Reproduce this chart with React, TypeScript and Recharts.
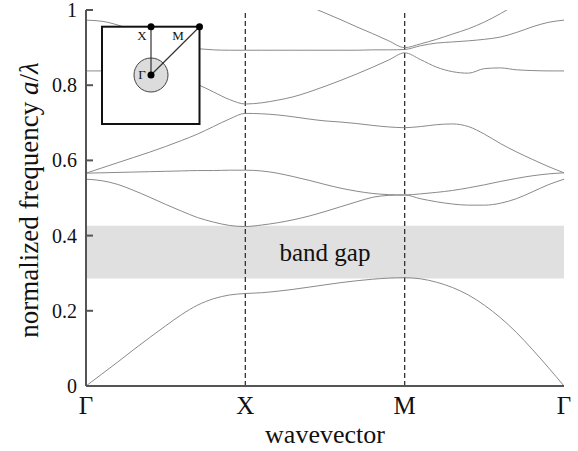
import React from 'react';
import {
  LineChart,
  Line,
  XAxis,
  YAxis,
  ReferenceArea,
  ReferenceLine,
  Label,
} from 'recharts';

const SERIF = "'Liberation Serif', 'DejaVu Serif', serif";

// wavevector positions along Γ -> X -> M -> Γ (0..3)
const kPoints = [
  0, 0.1, 0.2, 0.3, 0.4, 0.5, 0.6, 0.7, 0.8, 0.9,
  1, 1.1, 1.2, 1.3, 1.4, 1.5, 1.6, 1.7, 1.8, 1.9,
  2, 2.1, 2.2, 2.3, 2.4, 2.5, 2.6, 2.7, 2.8, 2.9, 3,
];

const xTickValues = [0, 1, 2, 3];
const xTickLabels = ['Γ', 'X', 'M', 'Γ'];
const yTickValues = [0, 0.2, 0.4, 0.6, 0.8, 1];

// band gap edges
const gapLow = 0.286;
const gapHigh = 0.426;

// bands
const band1 = [0, 0.032, 0.064, 0.097, 0.129, 0.16, 0.19, 0.215, 0.232, 0.242, 0.246, 0.248, 0.252, 0.257, 0.263, 0.269, 0.275, 0.28, 0.284, 0.287, 0.288, 0.285, 0.276, 0.262, 0.242, 0.215, 0.182, 0.143, 0.098, 0.05, 0];
const band2 = [0.55, 0.546, 0.536, 0.52, 0.502, 0.483, 0.465, 0.448, 0.436, 0.427, 0.424, 0.428, 0.434, 0.442, 0.452, 0.464, 0.477, 0.49, 0.502, 0.507, 0.508, 0.498, 0.49, 0.484, 0.481, 0.481, 0.486, 0.498, 0.516, 0.535, 0.55];
const band3 = [0.566, 0.567, 0.568, 0.569, 0.57, 0.571, 0.572, 0.573, 0.573, 0.574, 0.574, 0.572, 0.566, 0.557, 0.547, 0.536, 0.526, 0.518, 0.512, 0.509, 0.508, 0.511, 0.515, 0.52, 0.527, 0.535, 0.544, 0.552, 0.559, 0.564, 0.567];
const band4 = [0.566, 0.58, 0.594, 0.608, 0.622, 0.637, 0.653, 0.67, 0.69, 0.71, 0.725, 0.724, 0.721, 0.716, 0.71, 0.705, 0.702, 0.698, 0.693, 0.689, 0.687, 0.69, 0.695, 0.697, 0.69, 0.67, 0.645, 0.623, 0.603, 0.584, 0.567];
const band5 = [0.838, 0.838, 0.836, 0.833, 0.829, 0.824, 0.815, 0.802, 0.782, 0.762, 0.75, 0.753, 0.76, 0.769, 0.782, 0.797, 0.813, 0.83, 0.848, 0.867, 0.886, 0.868, 0.848, 0.836, 0.832, 0.844, 0.846, 0.841, 0.839, 0.838, 0.838];
const band6 = [0.973, 0.97, 0.96, 0.945, 0.927, 0.912, 0.902, 0.897, 0.894, 0.893, 0.893, 0.893, 0.893, 0.893, 0.893, 0.893, 0.893, 0.893, 0.894, 0.894, 0.895, 0.905, 0.912, 0.915, 0.918, 0.922, 0.928, 0.94, 0.955, 0.967, 0.973];
const band7 = [null, null, null, null, null, null, null, null, null, null, null, null, null, null, 1.01, 0.992, 0.974, 0.955, 0.937, 0.918, 0.9, 0.91, 0.922, 0.936, 0.95, 0.968, 0.99, 1.015, null, null, null];

const bands = [band1, band2, band3, band4, band5, band6, band7];

const rows = kPoints.map((k, i) => {
  const row: any = { k };
  bands.forEach((b, j) => {
    row['b' + (j + 1)] = b[i];
  });
  return row;
});

const XTick = (props: any) => {
  const { x, y, payload } = props;
  const idx = xTickValues.indexOf(payload.value);
  return (
    <text x={x} y={y + 28} textAnchor="middle" fontFamily={SERIF} fontSize={25} fill="#111">
      {xTickLabels[idx]}
    </text>
  );
};

const fmtY = (v: number) => (v === 0 || v === 1 ? String(v) : v.toFixed(1));

const YTickLeft = (props: any) => {
  const { x, y, payload } = props;
  return (
    <g>
      <text x={x - 9} y={y} dy="0.35em" textAnchor="end" fontFamily={SERIF} fontSize={20} fill="#111">
        {fmtY(payload.value)}
      </text>
      <line x1={x} x2={x + 7} y1={y} y2={y} stroke="#555" strokeWidth={2} />
    </g>
  );
};

const YTickRight = (props: any) => {
  const { x, y } = props;
  return <line x1={x - 7} x2={x} y1={y} y2={y} stroke="#555" strokeWidth={2} />;
};

const YLabel = (props: any) => {
  const vb = props.viewBox || { x: 0, y: 10, width: 86, height: 376 };
  const cx = vb.x + 38;
  const cy = vb.y + vb.height / 2 + 2;
  return (
    <text
      x={cx}
      y={cy}
      transform={`rotate(-90, ${cx}, ${cy})`}
      textAnchor="middle"
      fontFamily={SERIF}
      fontSize={27}
      fill="#111"
    >
      normalized frequency <tspan fontStyle="italic">a</tspan>/<tspan fontStyle="italic">λ</tspan>
    </text>
  );
};

// Brillouin zone inset (decoration, page pixels)
const Inset = () => (
  <svg
    width={578}
    height={451}
    style={{ position: 'absolute', left: 0, top: 0, pointerEvents: 'none' }}
  >
    <rect x={102} y={26.7} width={97.5} height={97.3} fill="#fff" stroke="#111" strokeWidth={2} />
    <circle cx={151} cy={75} r={17} fill="#dcdcdc" stroke="#444" strokeWidth={1} />
    <line x1={151} y1={26.7} x2={151} y2={75} stroke="#333" strokeWidth={1.2} />
    <line x1={151} y1={75} x2={199.5} y2={26.7} stroke="#333" strokeWidth={1.2} />
    <circle cx={151} cy={26.7} r={3.5} fill="#000" />
    <circle cx={199.5} cy={26.7} r={3.5} fill="#000" />
    <circle cx={151} cy={75} r={3.5} fill="#000" />
    <text x={142} y={40} textAnchor="middle" fontFamily={SERIF} fontSize={13} fill="#111">X</text>
    <text x={178} y={40} textAnchor="middle" fontFamily={SERIF} fontSize={13} fill="#111">M</text>
    <text x={142} y={79} textAnchor="middle" fontFamily={SERIF} fontSize={13} fill="#111">Γ</text>
  </svg>
);

const frame = { stroke: '#555', strokeWidth: 2 };

export default function App() {
  return (
    <div style={{ position: 'absolute', left: 0, top: 0, width: 578, height: 451, background: '#fff' }}>
      <LineChart width={578} height={451} data={rows} margin={{ top: 10, right: 14, bottom: 0, left: 0 }}>
        <ReferenceArea
          y1={gapLow}
          y2={gapHigh}
          fill="#e0e0e0"
          fillOpacity={1}
          stroke="none"
          label={{ value: 'band gap', position: 'center', fontFamily: SERIF, fontSize: 25, fill: '#111' }}
        />
        <ReferenceLine x={1} stroke="#333" strokeWidth={1.3} strokeDasharray="5 3" />
        <ReferenceLine x={2} stroke="#333" strokeWidth={1.3} strokeDasharray="5 3" />
        <XAxis
          dataKey="k"
          type="number"
          domain={[0, 3]}
          ticks={xTickValues}
          height={65}
          tickSize={0}
          tickMargin={0}
          tick={(p: any) => <XTick {...p} />}
          axisLine={frame}
          label={{ value: 'wavevector', position: 'insideBottom', offset: 8, fontFamily: SERIF, fontSize: 26, fill: '#111' }}
        />
        <XAxis
          xAxisId="top"
          orientation="top"
          type="number"
          domain={[0, 3]}
          height={0}
          tick={false}
          tickLine={false}
          axisLine={frame}
        />
        <YAxis
          type="number"
          domain={[0, 1]}
          ticks={yTickValues}
          width={86}
          allowDataOverflow
          tickSize={0}
          tickMargin={0}
          tick={(p: any) => <YTickLeft {...p} />}
          axisLine={frame}
        >
          <Label content={(p: any) => <YLabel {...p} />} />
        </YAxis>
        <YAxis
          yAxisId="right"
          orientation="right"
          type="number"
          domain={[0, 1]}
          ticks={yTickValues}
          width={0}
          tickSize={0}
          tickMargin={0}
          tick={(p: any) => <YTickRight {...p} />}
          axisLine={frame}
        />
        {bands.map((_, j) => (
          <Line
            key={j}
            dataKey={'b' + (j + 1)}
            type="monotone"
            stroke="#8a8a8a"
            strokeWidth={1}
            dot={false}
            activeDot={false}
            isAnimationActive={false}
          />
        ))}
      </LineChart>
      <Inset />
    </div>
  );
}
